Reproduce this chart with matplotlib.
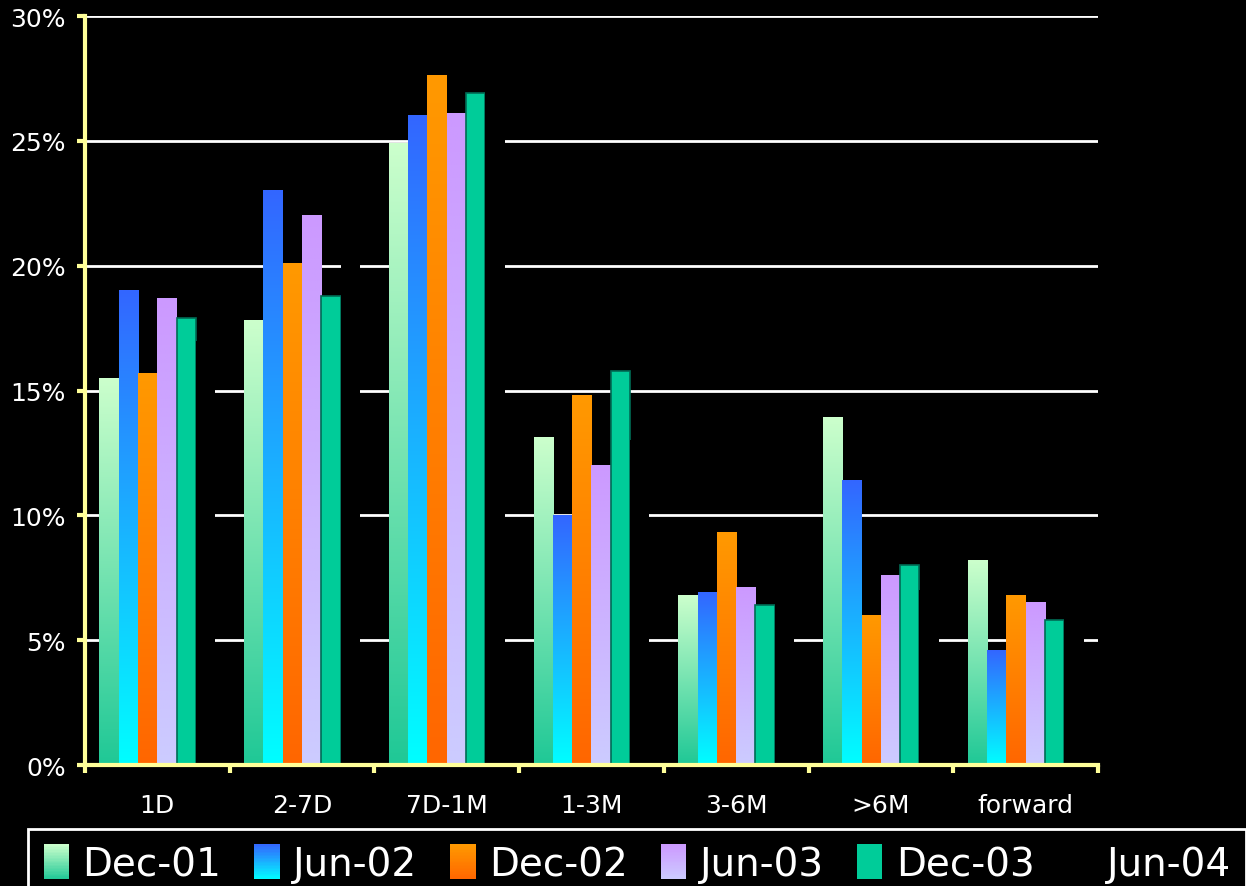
import matplotlib
matplotlib.use('Agg')
import matplotlib.pyplot as plt
import numpy as np
from matplotlib.colors import LinearSegmentedColormap
from matplotlib.legend_handler import HandlerBase
from matplotlib.patches import Rectangle
from matplotlib.ticker import FuncFormatter, FixedLocator

# Data (percent)
categories = ['1D', '2-7D', '7D-1M', '1-3M', '3-6M', '>6M', 'forward']
series = ['Dec-01', 'Jun-02', 'Dec-02', 'Jun-03', 'Dec-03', 'Jun-04']
dec01 = [15.5, 17.8, 24.9, 13.1, 6.8, 13.9, 8.2]
jun02 = [19.0, 23.0, 26.0, 10.0, 6.9, 11.4, 4.6]
dec02 = [15.7, 20.1, 27.6, 14.8, 9.3, 6.0, 6.8]
jun03 = [18.7, 22.0, 26.1, 12.0, 7.1, 7.6, 6.5]
dec03 = [17.9, 18.8, 26.9, 15.8, 6.4, 8.0, 5.8]
jun04 = [17.0, 21.5, 27.5, 13.0, 7.5, 7.0, 6.5]  # drawn in black, hidden
values = [dec01, jun02, dec02, jun03, dec03, jun04]

# (bottom colour, top colour) for each series
colours = [('#1FC896', '#CCFFCC'),
           ('#00FFFF', '#3366FF'),
           ('#FF6600', '#FF9900'),
           ('#CCCCFF', '#CC99FF'),
           ('#00CC99', '#00CC99'),
           ('#000000', '#000000')]

plt.rcParams['font.family'] = ['DejaVu Sans']

fig = plt.figure(figsize=(12.46, 8.87), dpi=100, facecolor='black')
ax = fig.add_axes([0.0682, 0.1364, 0.8130, 0.8444], facecolor='black')

x = np.arange(len(categories))
w = 1 / 7.5
grad = np.linspace(0, 1, 256).reshape(-1, 1)

for k, (name, vals) in enumerate(zip(series, values)):
    bottom, top = colours[k]
    offs = (k - 2.5) * w
    if name == 'Dec-03':
        ax.bar(x + offs, vals, w, color=top, edgecolor='#006B55', lw=1.2, zorder=3)
    elif name == 'Jun-04':
        ax.bar(x + offs, vals, w, color='black', lw=0, zorder=3)
    else:
        bars = ax.bar(x + offs, vals, w, color=top, lw=0, zorder=2)
        cmap = LinearSegmentedColormap.from_list(name, [bottom, top])
        for b in bars:
            x0, h, bw = b.get_x(), b.get_height(), b.get_width()
            ax.imshow(grad, extent=[x0, x0 + bw, 0, h], aspect='auto', cmap=cmap,
                      origin='lower', zorder=3, interpolation='bilinear')

ax.set_xlim(-0.5, len(categories) - 0.5)
ax.set_ylim(0, 30)

ax.set_axisbelow(True)
ax.yaxis.grid(True, color='white', lw=2)
ax.set_yticks(np.arange(0, 31, 5))
ax.yaxis.set_major_formatter(FuncFormatter(lambda v, p: '%d%%' % v))
ax.set_xticks(x)
ax.set_xticklabels(categories)
ax.xaxis.set_minor_locator(FixedLocator(np.arange(-0.5, len(categories), 1.0)))

yellow = '#FFFF99'
for s in ['top', 'right']:
    ax.spines[s].set_visible(False)
for s in ['left', 'bottom']:
    ax.spines[s].set_color(yellow)
    ax.spines[s].set_linewidth(3)
    ax.spines[s].set_zorder(5)

ax.tick_params(axis='y', colors=yellow, length=6, width=3, labelcolor='white',
               labelsize=18, pad=8)
ax.tick_params(axis='x', which='major', length=0, labelcolor='white',
               labelsize=18, pad=20)
ax.tick_params(axis='x', which='minor', colors=yellow, length=6, width=3)


class GradHandler(HandlerBase):
    def __init__(self, bottom, top):
        super().__init__()
        self.cmap = LinearSegmentedColormap.from_list('h', [bottom, top])

    def create_artists(self, legend, orig_handle, xdescent, ydescent,
                       width, height, fontsize, trans):
        n = 24
        arts = []
        for i in range(n):
            r = Rectangle((-xdescent, -ydescent + i * height / n), width,
                          height / n * 1.05, facecolor=self.cmap((i + 0.5) / n),
                          lw=0, antialiased=False, transform=trans)
            arts.append(r)
        return arts


handles = [Rectangle((0, 0), 1, 1) for _ in series]
hmap = {h: GradHandler(*colours[k]) for k, h in enumerate(handles)}
leg = fig.legend(handles, series, handler_map=hmap, loc='upper left',
                 bbox_to_anchor=(28 / 1246, 1 - 830 / 887), ncol=6,
                 fontsize=28, labelcolor='white', facecolor='black',
                 edgecolor='white', fancybox=False, framealpha=1,
                 handlelength=0.65, handleheight=1.0, handletextpad=0.35,
                 columnspacing=0.85, borderpad=0.4, borderaxespad=0)
leg.get_frame().set_linewidth(2)

fig.savefig('out.png', dpi=100, facecolor='black')
